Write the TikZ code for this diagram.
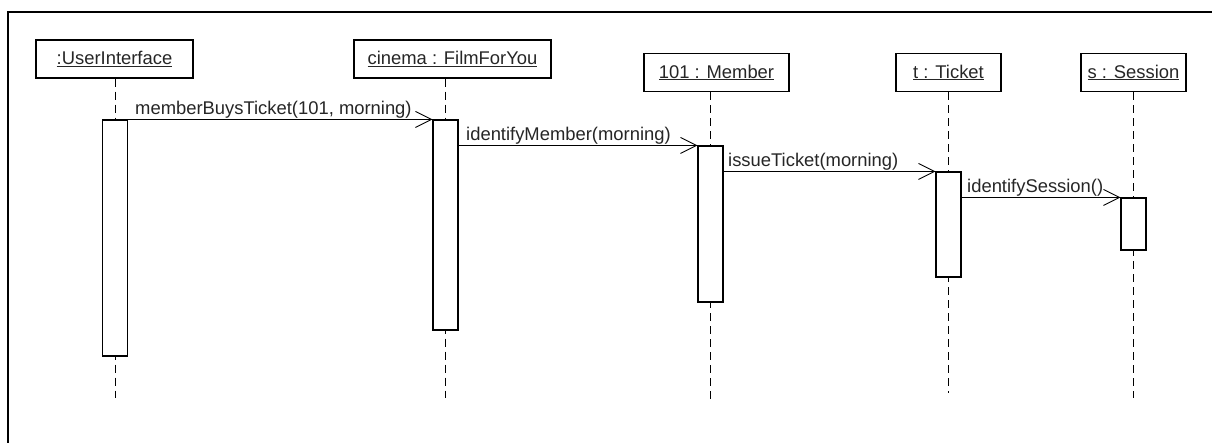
\documentclass[tikz,border=0pt]{standalone}
\usepackage{fontspec}
\setmainfont{Liberation Sans}
\usetikzlibrary{arrows.meta}
\begin{document}
\begin{tikzpicture}[x=1pt,y=-1pt,
  obj/.style={draw, line width=1.1pt, inner sep=0pt, minimum height=38pt, font=\fontsize{18.4}{22}\selectfont, text=black!85},
  act/.style={draw, line width=1.1pt, fill=white, inner sep=0pt, minimum width=25pt},
  life/.style={line width=1pt, dash pattern=on 8pt off 5pt},
  msg/.style={line width=0.9pt, -{Straight Barb[length=16pt,width=16pt]}},
  lbl/.style={inner sep=0pt, font=\fontsize{18.4}{22}\selectfont, text=black!85, anchor=base west}]
\useasboundingbox (0,0) rectangle (1212,443);
% frame
\draw[line width=2.2pt] (1212,12) -- (8,12) -- (8,443);
% objects
\node[obj, minimum width=157pt] (ui) at (114.5,59) {\underline{:UserInterface}};
\node[obj, minimum width=197pt] (cn) at (452.5,59) {\underline{cinema : FilmForYou}};
\node[obj, minimum width=145pt] (mb) at (716.5,72.5) {\underline{101 : Member}};
\node[obj, minimum width=105pt] (tk) at (948.5,72.5) {\underline{t : Ticket}};
\node[obj, minimum width=105pt] (ss) at (1133.5,72.5) {\underline{s : Session}};
% lifeline ends
\coordinate (uiE) at (115,398);
\coordinate (cnE) at (445.5,398);
\coordinate (mbE) at (710.5,399);
\coordinate (tkE) at (948.5,393);
\coordinate (ssE) at (1133.5,398);
\draw[life] (uiE |- ui.south) -- (uiE);
\draw[life] (cnE |- cn.south) -- (cnE);
\draw[life] (mbE |- mb.south) -- (mbE);
\draw[life] (tkE |- tk.south) -- (tkE);
\draw[life] (ssE |- ss.south) -- (ssE);
% activations
\node[act, minimum height=236pt] (uiA) at (115,238) {};
\node[act, minimum height=210pt] (cnA) at (445.5,225) {};
\node[act, minimum height=156pt] (mbA) at (710.5,224) {};
\node[act, minimum height=105pt] (tkA) at (948.5,224.5) {};
\node[act, minimum height=52pt] (ssA) at (1133.5,224) {};
% messages
\draw[msg] (uiA.east |- cnA.north) -- (cnA.north west);
\draw[msg] (cnA.east |- mbA.north) -- (mbA.north west);
\draw[msg] (mbA.east |- tkA.north) -- (tkA.north west);
\draw[msg] (tkA.east |- ssA.north) -- (ssA.north west);
% labels
\node[lbl] (l1) at (135,115) {memberBuysTicket(101, morning)};
\node[lbl] (l2) at (466,141) {identifyMember(morning)};
\node[lbl] (l3) at (728,167) {issueTicket(morning)};
\node[lbl] (l4) at (967,193) {identifySession()};
\end{tikzpicture}
\end{document}
